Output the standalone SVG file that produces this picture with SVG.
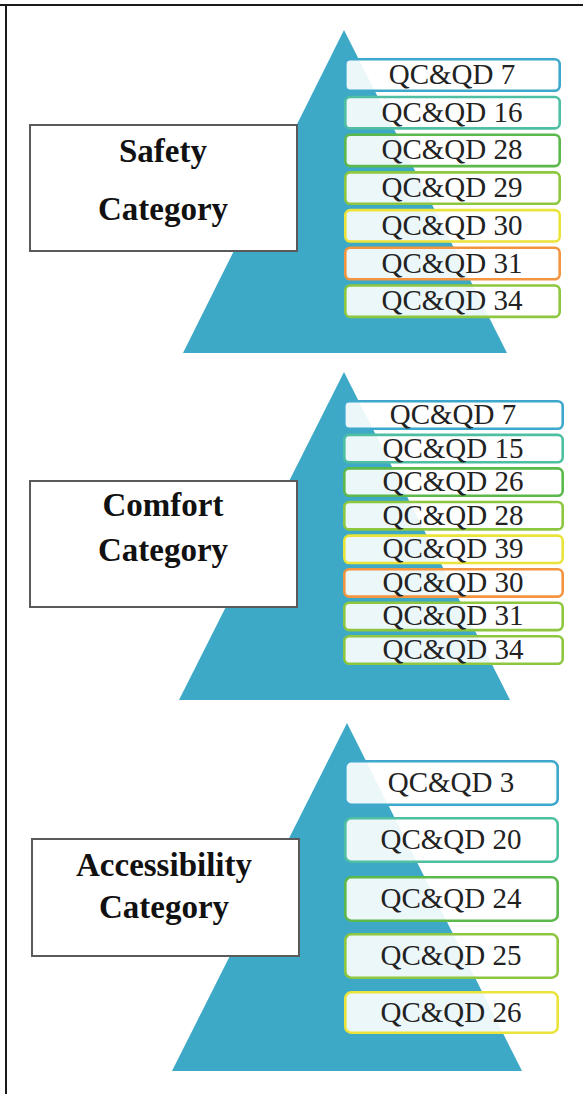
<svg xmlns="http://www.w3.org/2000/svg" width="583" height="1094" viewBox="0 0 583 1094">
<style>
.tri{fill:#3EA9C6}
.lbl{fill:#fff;stroke:#5a5a5a;stroke-width:2}
.lt{font-family:"Liberation Serif",serif;font-weight:bold;font-size:33px;fill:#111;text-anchor:middle}
.qb{fill:#fff;fill-opacity:0.9;stroke-width:2.6}
.qt{font-family:"Liberation Serif",serif;font-size:29px;fill:#222;text-anchor:middle}
.c1{stroke:#3DA7CC}.c2{stroke:#4EBFA2}.c3{stroke:#5BB84B}.c4{stroke:#8DC63F}.c5{stroke:#EAE43A}.c6{stroke:#F39440}.c7{stroke:#8DC63F}
</style>
<rect width="583" height="1094" fill="#fff"/>
<g id="frame">
<line x1="0" y1="5" x2="583" y2="5" stroke="#1a1a1a" stroke-width="2"/>
<line x1="6" y1="4" x2="6" y2="1094" stroke="#1a1a1a" stroke-width="2"/>
</g>
<g id="safety">
<polygon class="tri" points="344,30 183,353 507,353"/>
<rect class="lbl" x="30" y="125" width="267" height="126"/>
<text class="lt" x="163" y="162">Safety</text>
<text class="lt" x="163" y="220">Category</text>
<rect class="qb c1" x="345.3" y="59.3" width="214.4" height="31.4" rx="5"/><text class="qt" x="452" y="84">QC&amp;QD 7</text>
<rect class="qb c2" x="345.3" y="97" width="214.4" height="31.4" rx="5"/><text class="qt" x="452" y="121.7">QC&amp;QD 16</text>
<rect class="qb c3" x="345.3" y="134.7" width="214.4" height="31.4" rx="5"/><text class="qt" x="452" y="159.4">QC&amp;QD 28</text>
<rect class="qb c4" x="345.3" y="172.4" width="214.4" height="31.4" rx="5"/><text class="qt" x="452" y="197.1">QC&amp;QD 29</text>
<rect class="qb c5" x="345.3" y="210.1" width="214.4" height="31.4" rx="5"/><text class="qt" x="452" y="234.8">QC&amp;QD 30</text>
<rect class="qb c6" x="345.3" y="247.8" width="214.4" height="31.4" rx="5"/><text class="qt" x="452" y="272.5">QC&amp;QD 31</text>
<rect class="qb c7" x="345.3" y="285.5" width="214.4" height="31.4" rx="5"/><text class="qt" x="452" y="310.2">QC&amp;QD 34</text>
</g>
<g id="comfort">
<polygon class="tri" points="344,372 179,700 510,700"/>
<rect class="lbl" x="30" y="481" width="267" height="126"/>
<text class="lt" x="163" y="516">Comfort</text>
<text class="lt" x="163" y="561">Category</text>
<rect class="qb c1" x="344.3" y="401.3" width="218.4" height="27.4" rx="5"/><text class="qt" x="453" y="424">QC&amp;QD 7</text>
<rect class="qb c2" x="344.3" y="434.9" width="218.4" height="27.4" rx="5"/><text class="qt" x="453" y="457.6">QC&amp;QD 15</text>
<rect class="qb c3" x="344.3" y="468.4" width="218.4" height="27.4" rx="5"/><text class="qt" x="453" y="491.1">QC&amp;QD 26</text>
<rect class="qb c4" x="344.3" y="502" width="218.4" height="27.4" rx="5"/><text class="qt" x="453" y="524.7">QC&amp;QD 28</text>
<rect class="qb c5" x="344.3" y="535.6" width="218.4" height="27.4" rx="5"/><text class="qt" x="453" y="558.3">QC&amp;QD 39</text>
<rect class="qb c6" x="344.3" y="569.2" width="218.4" height="27.4" rx="5"/><text class="qt" x="453" y="591.9">QC&amp;QD 30</text>
<rect class="qb c4" x="344.3" y="602.7" width="218.4" height="27.4" rx="5"/><text class="qt" x="453" y="625.4">QC&amp;QD 31</text>
<rect class="qb c7" x="344.3" y="636.3" width="218.4" height="27.4" rx="5"/><text class="qt" x="453" y="659">QC&amp;QD 34</text>
</g>
<g id="accessibility">
<polygon class="tri" points="347,723 172,1071 522,1071"/>
<rect class="lbl" x="32" y="839" width="267" height="117"/>
<text class="lt" x="164" y="876">Accessibility</text>
<text class="lt" x="164" y="918">Category</text>
<rect class="qb c1" x="345.3" y="761.3" width="212.4" height="43.4" rx="6"/><text class="qt" x="451" y="792">QC&amp;QD 3</text>
<rect class="qb c2" x="345.3" y="818.3" width="212.4" height="43.4" rx="6"/><text class="qt" x="451" y="849">QC&amp;QD 20</text>
<rect class="qb c3" x="345.3" y="877.3" width="212.4" height="43.4" rx="6"/><text class="qt" x="451" y="908">QC&amp;QD 24</text>
<rect class="qb c4" x="345.3" y="934.3" width="212.4" height="43.4" rx="6"/><text class="qt" x="451" y="965">QC&amp;QD 25</text>
<rect class="qb c5" x="345.3" y="992.3" width="212.4" height="40.4" rx="6"/><text class="qt" x="451" y="1022">QC&amp;QD 26</text>
</g>
</svg>
